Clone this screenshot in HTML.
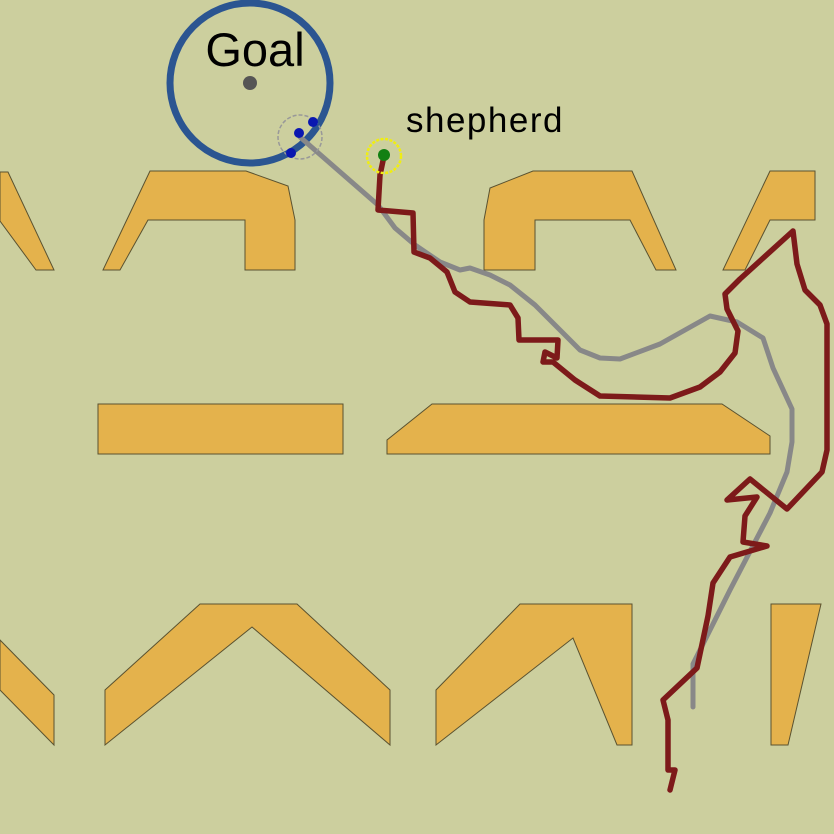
<!DOCTYPE html>
<html><head><style>html,body{margin:0;padding:0;background:#cccf9e}svg{display:block}</style></head>
<body>
<svg width="834" height="834" viewBox="0 0 834 834" xmlns="http://www.w3.org/2000/svg">
<rect width="834" height="834" fill="#cccf9e"/>
<g fill="#e4b24c" stroke="#5a5230" stroke-width="1">
<polygon points="0,172 8,172 54,270 36,270 0,221"/>
<polygon points="150,171 246,171 288,186 295,220 295,270 245,270 245,220 148,220 120,270 103,270"/>
<polygon points="484,220 490,188 533,171 632,171 676,270 656,270 630,220 535,220 535,270 484,270"/>
<polygon points="770,171 815,171 815,220 770,220 745,270 723,270"/>
<polygon points="98,404 343,404 343,454 98,454"/>
<polygon points="432,404 722,404 770,436 770,454 387,454 387,440"/>
<polygon points="0,640 54,695 54,745 0,690"/>
<polygon points="200,604 297,604 390,690 390,745 252,627 105,745 105,690"/>
<polygon points="436,690 520,604 632,604 632,745 617,745 573,638 436,745"/>
<polygon points="771,604 821,604 788,745 771,745"/>
</g>
<circle cx="250" cy="83" r="80" fill="none" stroke="#2b5591" stroke-width="7"/>
<circle cx="250" cy="83" r="7" fill="#555"/>
<text x="255" y="66" font-family="Liberation Sans, sans-serif" font-size="47" text-anchor="middle" fill="#000">Goal</text>
<polyline fill="none" stroke="#888" stroke-width="5" stroke-linejoin="round" stroke-linecap="round" points="300,137 378,205 395,228 415,245 440,262 460,270 470,268 490,275 510,285 535,305 560,330 580,350 600,358 620,359 660,344 710,316 737,322 763,338 773,368 792,409 792,442 787,472 770,513 730,590 693,664 693,707"/>
<polyline fill="none" stroke="#7d1a1a" stroke-width="5.5" stroke-linejoin="round" stroke-linecap="round" points="384,156 380,175 378,210 413,213 414,252 430,258 447,272 455,292 470,302 510,305 518,318 519,340 558,340 557,358 545,352 543,362 553,362 575,380 600,396 670,398 700,387 720,372 735,353 738,331 727,309 725,294 740,279 793,231 797,264 805,290 820,305 827,324 827,450 822,472 787,509 750,479 727,500 757,497 745,516 743,542 767,546 730,557 713,583 708,616 697,668 663,700 668,720 668,770 675,770 670,790"/>
<circle cx="300" cy="137" r="22" fill="none" stroke="#999" stroke-width="1.5" stroke-dasharray="4,2"/>
<circle cx="299" cy="133" r="5" fill="#0a17b0"/>
<circle cx="313" cy="122" r="5" fill="#0a17b0"/>
<circle cx="291" cy="153" r="5" fill="#0a17b0"/>
<circle cx="384" cy="156" r="17" fill="none" stroke="#f0ee10" stroke-width="2.5" stroke-dasharray="3,1.5"/>
<circle cx="384" cy="155" r="6" fill="#128012"/>
<text x="406" y="132" font-family="Liberation Sans, sans-serif" font-size="35" letter-spacing="1.5" fill="#000">shepherd</text>
</svg>
</body></html>
